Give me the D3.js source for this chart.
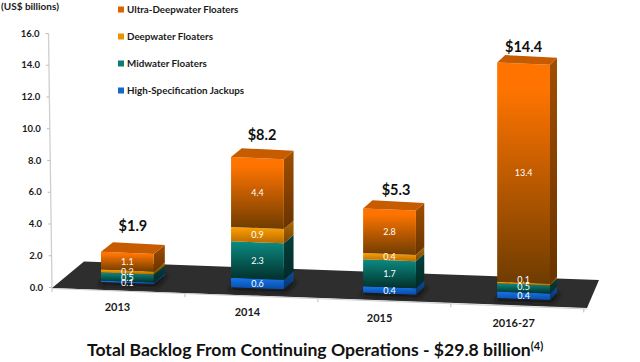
<!DOCTYPE html>
<html><head><meta charset="utf-8">
<script src="https://cdnjs.cloudflare.com/ajax/libs/d3/7.8.5/d3.min.js"></script>
<style>html,body{margin:0;padding:0;background:#fff}svg{display:block}text{font-family:Lato,"Open Sans",sans-serif;font-weight:700}</style>
</head><body><svg id="c" width="640" height="362"></svg>
<script>
const periods = ["2013","2014","2015","2016-27"];
const totalLabels = ["$1.9","$8.2","$5.3","$14.4"];
const seriesNames = ["Ultra-Deepwater Floaters","Deepwater Floaters","Midwater Floaters","High-Specification Jackups"];
const jackups = [0.1,0.6,0.4,0.4];
const midwater = [0.5,2.3,1.7,0.5];
const deepwater = [0.2,0.9,0.4,0.1];
const ultra = [1.1,4.4,2.8,13.4];
const yTicks = [0,2,4,6,8,10,12,14,16];

const stackOrder = [jackups,midwater,deepwater,ultra];
const palette = [
  {top:"#1478ea",bot:"#0a4aa8",side:"#0c4c9c",legend:"#1568c8"},
  {top:"#0b8c82",bot:"#022f2c",side:"#03403c",legend:"#0c7c74"},
  {top:"#ffa200",bot:"#b86a00",side:"#b06a00",legend:"#e89400"},
  {top:"#ff7400",bot:"#6e3c00",side:"#a04e00",legend:"#d96400"}
];
const svg = d3.select("#c");
const defs = svg.append("defs");
palette.forEach((p,i)=>{
  const g = defs.append("linearGradient").attr("id","f"+i).attr("x1",0).attr("x2",0).attr("y1",0).attr("y2",1);
  g.append("stop").attr("offset",i==3?0.12:0).attr("stop-color",p.top);
  g.append("stop").attr("offset",1).attr("stop-color",p.bot);
  const s = defs.append("linearGradient").attr("id","s"+i).attr("x1",0).attr("x2",0).attr("y1",0).attr("y2",1);
  s.append("stop").attr("offset",0).attr("stop-color",p.side);
  s.append("stop").attr("offset",1).attr("stop-color",d3.color(p.side).darker(1.2));
});
defs.append("filter").attr("id","blur").attr("x","-30%").attr("y","-30%").attr("width","160%").attr("height","160%")
  .append("feGaussianBlur").attr("stdDeviation",2);

const y = d3.scaleLinear().domain([0,16]).range([287.5,33.5]);
const unit = y(0)-y(1);
const band = d3.scaleBand().domain(periods).range([101,550]).paddingInner(0.6).paddingOuter(0);
const perspectiveShift = d3.scaleOrdinal().domain(periods).range([0,-2,-2,0]);
const x = p => band(p)+perspectiveShift(p);
const slope = 0.04;
const baseY = d3.scaleLinear().domain([101,497]).range([282,298]);
const depthX = d3.scalePoint().domain(periods).range([11,7]);
const depthY = d3.scalePoint().domain(periods).range([-9,-7]);
const stretch = d3.scaleOrdinal().domain(periods).range([1,1,1,1.03]);
const totalDx = d3.scaleOrdinal().domain(periods).range([5.5,4.5,6.5,0]);
const totalDy = d3.scaleOrdinal().domain(periods).range([-12,-9,-6,-4]);
const line = d3.line();

// floor
svg.append("path").attr("d",line([[52,288],[84,261.5],[599,280],[587,308]])).attr("fill","#2e2e2e");

// y axis
const axisX = d3.scaleLinear().domain([0,16]).range([52,48.5]);
svg.append("path").attr("d",line([[axisX(0),y(0)],[axisX(16),y(16)]])).attr("stroke","#cfcfcf").attr("stroke-width",1.3).attr("fill","none");
const ya = svg.append("g").call(d3.axisLeft(y).tickValues(yTicks).tickFormat(d3.format(".1f")).tickSize(3).tickPadding(6));
ya.select(".domain").remove();
ya.selectAll(".tick").attr("transform",d=>`translate(${axisX(d)},${y(d)})`);
ya.selectAll("line").attr("stroke","#bdbdbd");
ya.selectAll("text").attr("font-size",9.5).attr("fill","#1a1a1a").style("font-family","Lato").style("font-weight",700);

// x axis along the front edge of the floor
const edge = d3.scaleLinear().domain([52,587]).range([288.5,309]);
svg.append("path").attr("d",line([[52,288.5],[587,309]])).attr("stroke","#cfcfcf").attr("stroke-width",1).attr("fill","none");
const step = band.step();
d3.range(5).forEach(i=>{
  const px = 52+step*i*1.0067;
  if(px<=588) svg.append("line").attr("x1",px).attr("x2",px).attr("y1",edge(px)).attr("y2",edge(px)+3.5).attr("stroke","#bdbdbd");
});
svg.selectAll(".cat").data(periods).join("text").attr("class","cat")
  .attr("x",d=>x(d)+band.bandwidth()/2-10).attr("y",d=>baseY(x(d))+29)
  .attr("text-anchor","middle").attr("font-size",11).attr("fill","#1a1a1a").text(d=>d);

// small label nudges where thin segments crowd together at the last bar
const labelNudge = {"3-1":-1.5,"3-2":-4};

// bars
periods.forEach((p,i)=>{
  const x0 = x(p), w = band.bandwidth(), dx = depthX(p), dy = depthY(p), b = baseY(x0), k = stretch(p);
  svg.append("path").attr("filter","url(#blur)").attr("fill","#151515")
    .attr("d",line([[x0-3,b+3],[x0+w+3,b+w*slope+3],[x0+w+dx+3,b+w*slope+dy],[x0+dx,b+dy]]));
  let acc = 0, lastTop = b;
  const labels = [];
  stackOrder.forEach((s,j)=>{
    const v = s[i];
    const y0 = b-acc*unit*k, y1 = b-(acc+v)*unit*k;
    acc += v; lastTop = y1;
    svg.append("path").attr("fill",`url(#s${j})`).attr("d",line([
      [x0+w,y0+w*slope],[x0+w+dx,y0+w*slope+dy],[x0+w+dx,y1+w*slope+dy],[x0+w,y1+w*slope]]));
    svg.append("path").attr("fill",`url(#f${j})`).attr("d",line([
      [x0,y0],[x0+w,y0+w*slope],[x0+w,y1+w*slope],[x0,y1]]));
    labels.push({v,cx:x0+w/2,cy:(y0+y1)/2+w*slope/2+(labelNudge[i+"-"+j]||0)});
  });
  svg.append("path").attr("fill","#c65b00").attr("d",line([
    [x0,lastTop],[x0+w,lastTop+w*slope],[x0+w+dx,lastTop+w*slope+dy],[x0+dx+1,lastTop+dy-0.5]]));
  labels.forEach(l=>svg.append("text").attr("x",l.cx).attr("y",l.cy).attr("dy","0.36em")
    .attr("text-anchor","middle").attr("font-size",9).attr("fill","#fff").style("font-weight",400).text(d3.format(".1f")(l.v)));
  svg.append("text").attr("x",x0+w/2+totalDx(p)).attr("y",lastTop+dy+totalDy(p))
    .attr("text-anchor","middle").attr("font-size",14.5).attr("fill","#111").text(totalLabels[i]);
});

// legend
const legendY = d3.scalePoint().domain(seriesNames).range([9,90]);
seriesNames.forEach((n,i)=>{
  const c = palette[3-i];
  svg.append("rect").attr("x",118).attr("y",legendY(n)-2.5).attr("width",6).attr("height",6).attr("fill",c.legend);
  svg.append("text").attr("x",127).attr("y",legendY(n)+3.5).attr("font-size",9.8).attr("fill","#1a1a1a").text(n);
});
svg.append("text").attr("x",1).attr("y",9.5).attr("font-size",10).attr("fill","#1a1a1a").text("(US$ billions)");

// title
const t = svg.append("text").attr("x",87).attr("y",355.5).attr("font-size",17.6).attr("fill","#111");
t.append("tspan").text("Total Backlog From Continuing Operations - $29.8 billion");
t.append("tspan").attr("font-size",11).attr("dy",-6).text("(4)");
</script></body></html>
